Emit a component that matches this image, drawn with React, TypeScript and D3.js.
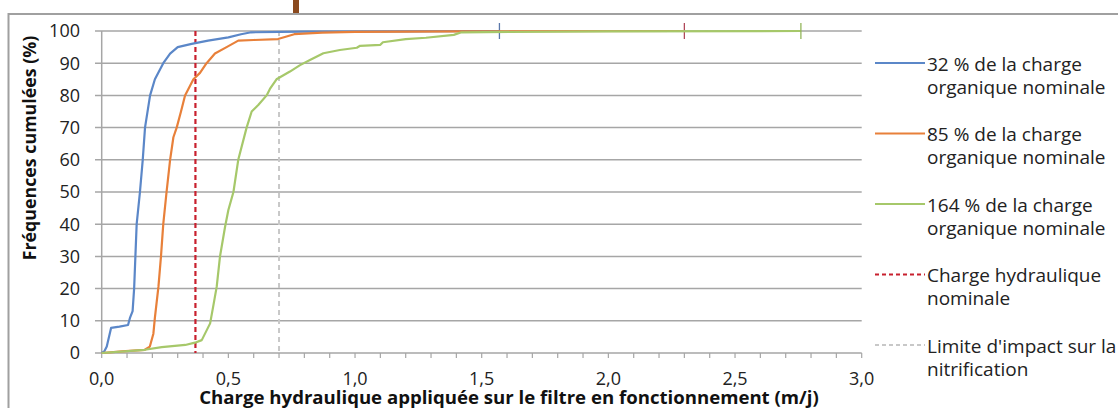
import React from "react";
import * as d3 from "d3";

// Cumulative frequency curves (x = hydraulic load m/j, y = cumulative %)
const blueX = [0, 0.01, 0.02, 0.037, 0.07, 0.104, 0.112, 0.122, 0.128, 0.133, 0.138, 0.151, 0.162, 0.171, 0.191, 0.21, 0.243, 0.27, 0.3, 0.355, 0.42, 0.5, 0.55, 0.59, 0.8, 1.2, 1.57];
const blueY = [0, 0.5, 2, 7.8, 8.2, 8.7, 11, 13, 20, 30, 40, 50, 60, 70, 80, 85, 90, 93, 95, 96, 97, 98, 99, 99.6, 99.8, 99.9, 100];

const orangeX = [0, 0.08, 0.17, 0.19, 0.204, 0.21, 0.224, 0.234, 0.243, 0.256, 0.27, 0.283, 0.296, 0.313, 0.329, 0.362, 0.388, 0.414, 0.447, 0.493, 0.539, 0.6, 0.696, 0.76, 0.87, 1.0, 1.41, 2.3];
const orangeY = [0, 0.5, 1, 2, 6, 11, 20.6, 30, 40, 50, 60, 67, 70, 75, 80, 85, 87, 90, 93, 95, 97, 97.2, 97.5, 99, 99.5, 99.7, 99.9, 100];

const greenX = [0, 0.17, 0.237, 0.33, 0.368, 0.395, 0.428, 0.44, 0.454, 0.467, 0.487, 0.5, 0.52, 0.539, 0.572, 0.592, 0.618, 0.651, 0.664, 0.69, 0.743, 0.783, 0.822, 0.875, 0.94, 1.007, 1.02, 1.1, 1.11, 1.2, 1.28, 1.39, 1.42, 2.0, 2.76];
const greenY = [0, 1, 1.8, 2.5, 3.2, 4, 9.2, 14.4, 20.6, 30, 39.2, 44.4, 50, 60, 70, 75, 77, 80, 82, 85, 87.4, 89.4, 91, 93.1, 94.1, 94.8, 95.4, 95.7, 96.5, 97.5, 97.9, 98.8, 99.6, 99.9, 100];

const nominalLoad = 0.37;
const nitrificationLimit = 0.7;

const xTicks = [0, 0.5, 1.0, 1.5, 2.0, 2.5, 3.0];
const yTicks = [0, 10, 20, 30, 40, 50, 60, 70, 80, 90, 100];

const legendLabels = [
  ["32 % de la charge", "organique nominale"],
  ["85 % de la charge", "organique nominale"],
  ["164 % de la charge", "organique nominale"],
  ["Charge hydraulique", "nominale"],
  ["Limite d'impact sur la", "nitrification"],
];

const FONT = "'Open Sans', Lato, sans-serif";

export default function App() {
  const W = 1118, H = 408;
  const x = d3.scaleLinear().domain([0, 3]).range([101.7, 861.7]);
  const y = d3.scaleLinear().domain([0, 100]).range([353, 31]);
  const line = d3.line<[number, number]>().x((d) => x(d[0])).y((d) => y(d[1]));
  const zip = (a: number[], b: number[]) => a.map((v, i) => [v, b[i]] as [number, number]);

  const series = [
    { xs: blueX, ys: blueY, color: "#5B87C8", cap: "#5A77AA" },
    { xs: orangeX, ys: orangeY, color: "#E8803A", cap: "#B0485A" },
    { xs: greenX, ys: greenY, color: "#A6C86A", cap: "#93B65A" },
  ];
  const legendStyles = [
    { color: "#5B87C8", dash: undefined },
    { color: "#E8803A", dash: undefined },
    { color: "#A6C86A", dash: undefined },
    { color: "#C8202E", dash: "4,3" },
    { color: "#C8C8C8", dash: "4,3" },
  ];
  const minor = d3.range(0, 31).map((i) => i / 10);

  return (
    <svg width={W} height={H} style={{ position: "absolute", left: 0, top: 0, background: "#fff" }} fontFamily={FONT}>
      <rect x={0} y={0} width={W} height={H} fill="#fff" />
      {/* outer chart border */}
      <rect x={8.5} y={14} width={W + 20} height={H + 20} fill="none" stroke="#A0A0A0" strokeWidth={2} />
      <rect x={293} y={0} width={6} height={13} fill="#8B4A1E" />

      {/* gridlines */}
      {yTicks.map((t) => (
        <line key={"g" + t} x1={95} x2={861.7} y1={y(t)} y2={y(t)} stroke="#A6A6A6" strokeWidth={1.5} />
      ))}
      {/* y axis */}
      <line x1={x(0)} x2={x(0)} y1={y(100)} y2={y(0)} stroke="#A6A6A6" strokeWidth={1.5} />
      {/* x axis minor ticks */}
      {minor.map((t) => (
        <line key={"m" + t} x1={x(t)} x2={x(t)} y1={y(0)} y2={y(0) + 5} stroke="#A6A6A6" strokeWidth={1.2} />
      ))}

      {/* reference dashed lines */}
      <line x1={x(nitrificationLimit)} x2={x(nitrificationLimit)} y1={y(100)} y2={y(0)} stroke="#C8C8C8" strokeWidth={2} strokeDasharray="5,4" />
      <line x1={x(nominalLoad)} x2={x(nominalLoad)} y1={y(100)} y2={y(0)} stroke="#C8202E" strokeWidth={2.2} strokeDasharray="5,3" />

      {/* curves */}
      {series.map((s, i) => {
        const pts = zip(s.xs, s.ys);
        const last = pts[pts.length - 1];
        return (
          <g key={"s" + i}>
            <path d={line(pts) || ""} fill="none" stroke={s.color} strokeWidth={2.2} strokeLinejoin="round" />
            <line x1={x(last[0])} x2={x(last[0])} y1={y(last[1]) - 8} y2={y(last[1]) + 8} stroke={s.cap} strokeWidth={1.3} />
          </g>
        );
      })}

      {/* y tick labels */}
      {yTicks.map((t) => (
        <text key={"yl" + t} x={80} y={y(t)} dy="0.35em" textAnchor="end" fontSize={18} fill="#222">{t}</text>
      ))}
      {/* x tick labels */}
      {xTicks.map((t) => (
        <text key={"xl" + t} x={x(t)} y={385} textAnchor="middle" fontSize={18} fill="#222">{t.toFixed(1).replace(".", ",")}</text>
      ))}

      {/* axis titles */}
      <text x={509} y={403.5} textAnchor="middle" fontSize={18.6} fontWeight="bold" fill="#111">
        Charge hydraulique appliquée sur le filtre en fonctionnement (m/j)
      </text>
      <text transform="translate(36,148) rotate(-90)" textAnchor="middle" fontSize={17.8} fontWeight="bold" fill="#111">
        Fréquences cumulées (%)
      </text>

      {/* legend */}
      {legendLabels.map((lab, i) => {
        const ry = 64 + i * 70.5;
        const st = legendStyles[i];
        return (
          <g key={"lg" + i}>
            <line x1={875} x2={925} y1={ry - 1} y2={ry - 1} stroke={st.color} strokeWidth={2.2} strokeDasharray={st.dash} />
            <text x={927} y={ry} dy="0.35em" fontSize={19} fill="#222">{lab[0]}</text>
            <text x={927} y={ry + 23} dy="0.35em" fontSize={19} fill="#222">{lab[1]}</text>
          </g>
        );
      })}
    </svg>
  );
}
